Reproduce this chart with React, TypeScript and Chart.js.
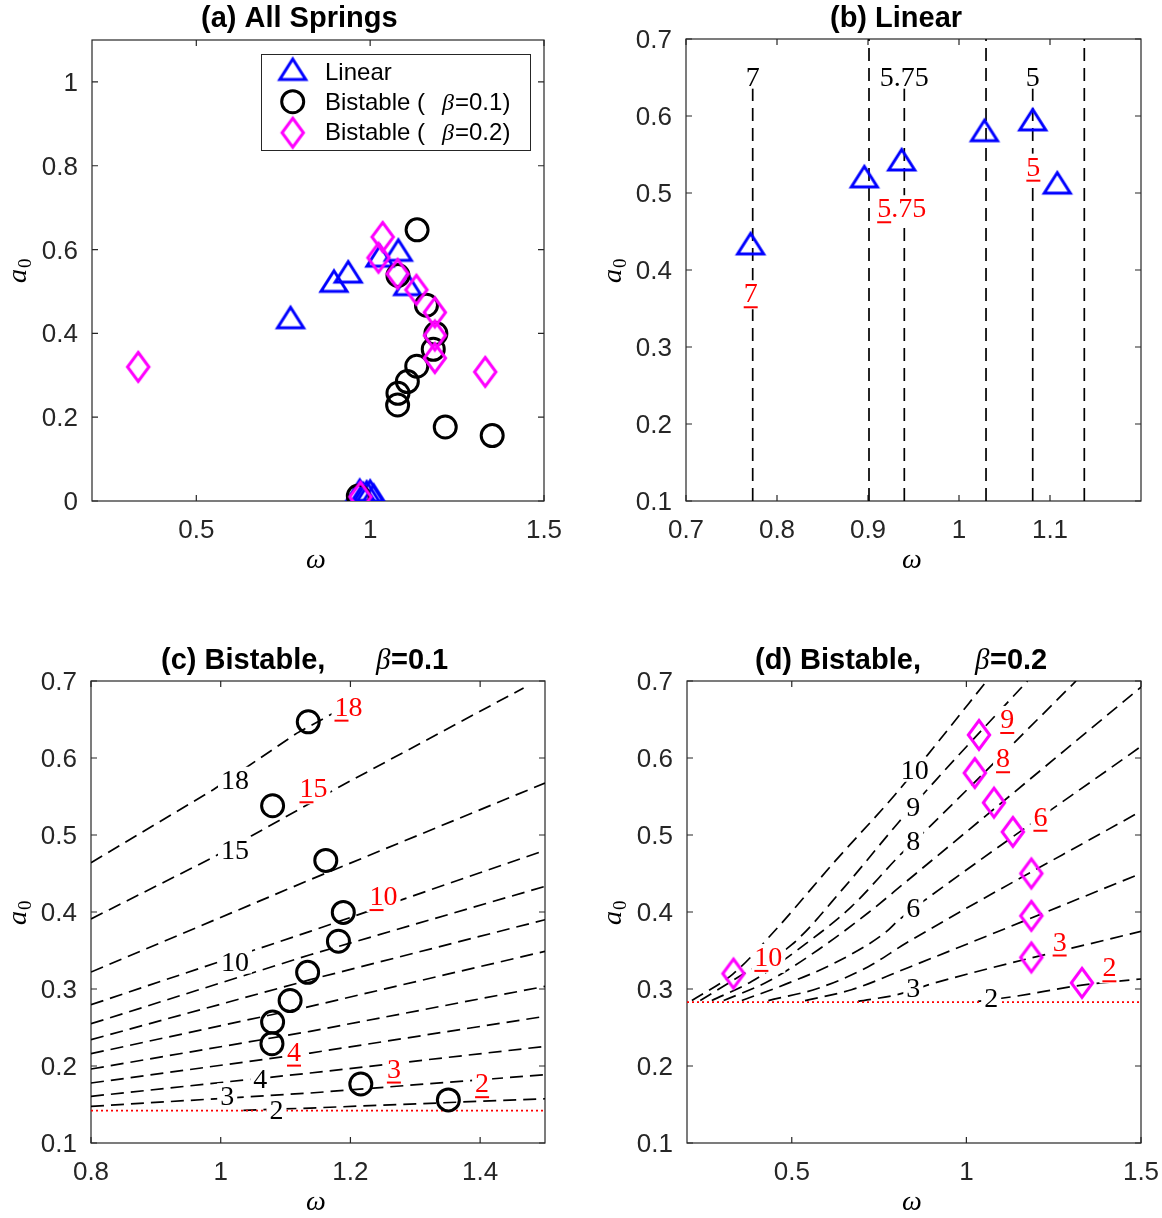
import React, { useEffect, useRef } from 'react';
import { Chart, registerables } from 'chart.js';

Chart.register(...registerables);

// ---------------- data ----------------
// (a)/(b) linear springs
const linearOmega = [0.771, 0.896, 0.937, 1.028, 1.081, 1.108];
const linearA0 = [0.430, 0.517, 0.539, 0.577, 0.591, 0.509];
const linearLowOmega = [0.97, 0.98, 0.99, 1.0, 1.01];
const linearLowA0 = [0.018, 0.010, 0.014, 0.016, 0.006];

// bistable beta = 0.1
const bist1Omega = [1.135, 1.080, 1.162, 1.189, 1.1815, 1.134, 1.107, 1.080, 1.079, 1.216, 1.351];
const bist1A0 = [0.647, 0.538, 0.467, 0.3995, 0.362, 0.3216, 0.285, 0.257, 0.229, 0.1766, 0.156];
const bist1LowOmega = [0.966];
const bist1LowA0 = [0.012];

// bistable beta = 0.2
const bist2Omega = [0.333, 1.036, 1.024, 1.079, 1.133, 1.186, 1.186, 1.186, 1.331];
const bist2A0 = [0.320, 0.630, 0.5805, 0.542, 0.504, 0.450, 0.395, 0.341, 0.308];
const bist2LowOmega = [0.972];
const bist2LowA0 = [0.010];

// (b) vertical guide lines
const guideOmega = [0.7733, 0.9011, 0.9399, 1.0297, 1.081, 1.1377];
const guideTop = [0.65, 0.7, 0.65, 0.7, 0.65, 0.7];
const guideBottom = 0.1;

// (c) curves, beta = 0.1
const c18Omega = [0.8, 0.989, 1.117, 1.21];
const c18A0 = [0.464, 0.559, 0.632, 0.675];
const c15Omega = [0.8, 0.986, 1.184, 1.467];
const c15A0 = [0.391, 0.470, 0.563, 0.691];
const cMidOmega = [0.8, 1.138, 1.5];
const c12A0 = [0.322, 0.442, 0.5675];
const c10A0 = [0.2796, 0.3749, 0.4801];
const c9A0 = [0.2549, 0.3445, 0.4333];
const c8A0 = [0.2342, 0.3121, 0.3900];
const c7A0 = [0.2160, 0.2774, 0.3489];
const c6A0 = [0.1961, 0.2450, 0.3034];
const c5A0 = [0.1779, 0.2168, 0.2645];
const c4A0 = [0.1606, 0.1909, 0.2255];
const c3A0 = [0.1476, 0.1649, 0.1887];
const c2Omega = [1.035, 1.138, 1.5];
const c2A0 = [0.1424, 0.1454, 0.1575];
const cThreshold = 0.142;

// (d) curves, beta = 0.2
const d10Omega = [0.214, 0.333, 0.452, 0.624, 0.795, 0.905, 1.058];
const d10A0 = [0.285, 0.320, 0.376, 0.466, 0.552, 0.613, 0.700];
const d9Omega = [0.238, 0.367, 0.5, 0.652, 0.805, 0.914, 1.175];
const d9A0 = [0.285, 0.321, 0.3575, 0.433, 0.516, 0.572, 0.700];
const d8Omega = [0.271, 0.386, 0.529, 0.671, 0.810, 0.895, 1.314];
const d8A0 = [0.285, 0.310, 0.355, 0.407, 0.474, 0.511, 0.700];
const d7Omega = [0.305, 0.433, 0.576, 0.719, 0.829, 1.5];
const d7A0 = [0.285, 0.310, 0.351, 0.399, 0.440, 0.692];
const d6Omega = [0.357, 0.481, 0.624, 0.767, 0.805, 0.895, 1.5];
const d6A0 = [0.285, 0.306, 0.334, 0.373, 0.389, 0.420, 0.615];
const d5Omega = [0.433, 0.576, 0.719, 0.829, 1.5];
const d5A0 = [0.285, 0.301, 0.329, 0.360, 0.531];
const d4Omega = [0.538, 0.671, 0.829, 1.5];
const d4A0 = [0.285, 0.299, 0.327, 0.450];
const d3Omega = [0.690, 0.805, 0.895, 1.5];
const d3A0 = [0.284, 0.293, 0.306, 0.375];
const d2Omega = [1.033, 1.133, 1.331, 1.5];
const d2A0 = [0.284, 0.290, 0.305, 0.313];
const dThreshold = 0.283;

// tick labels
const xTicksA = [0.5, 1, 1.5];
const xTickLabelsA = ['0.5', '1', '1.5'];
const yTicksA = [0, 0.2, 0.4, 0.6, 0.8, 1];
const yTickLabelsA = ['0', '0.2', '0.4', '0.6', '0.8', '1'];
const xTicksB = [0.7, 0.8, 0.9, 1, 1.1];
const xTickLabelsB = ['0.7', '0.8', '0.9', '1', '1.1'];
const xTicksC = [0.8, 1, 1.2, 1.4];
const xTickLabelsC = ['0.8', '1', '1.2', '1.4'];
const xTicksD = [0.5, 1, 1.5];
const xTickLabelsD = ['0.5', '1', '1.5'];
const yTicksBCD = [0.1, 0.2, 0.3, 0.4, 0.5, 0.6, 0.7];
const yTickLabelsBCD = ['0.1', '0.2', '0.3', '0.4', '0.5', '0.6', '0.7'];

// annotation labels (text, omega, a0)
type Lbl = { text: string; omega: number; a0: number };
const bBlackLabels: Lbl[] = [
  { text: '7', omega: 0.7733, a0: 0.6514 },
  { text: '5.75', omega: 0.9399, a0: 0.6514 },
  { text: '5', omega: 1.081, a0: 0.6514 },
];
const bRedLabels: Lbl[] = [
  { text: '7', omega: 0.7711, a0: 0.3701 },
  { text: '5.75', omega: 0.937, a0: 0.4805 },
  { text: '5', omega: 1.0817, a0: 0.5345 },
];
const cBlackLabels: Lbl[] = [
  { text: '18', omega: 1.022, a0: 0.572 },
  { text: '15', omega: 1.022, a0: 0.481 },
  { text: '10', omega: 1.022, a0: 0.336 },
  { text: '4', omega: 1.061, a0: 0.184 },
  { text: '3', omega: 1.010, a0: 0.161 },
  { text: '2', omega: 1.086, a0: 0.143 },
];
const cRedLabels: Lbl[] = [
  { text: '18', omega: 1.197, a0: 0.667 },
  { text: '15', omega: 1.143, a0: 0.561 },
  { text: '10', omega: 1.251, a0: 0.421 },
  { text: '4', omega: 1.113, a0: 0.219 },
  { text: '3', omega: 1.267, a0: 0.197 },
  { text: '2', omega: 1.403, a0: 0.178 },
];
const dBlackLabels: Lbl[] = [
  { text: '10', omega: 0.852, a0: 0.585 },
  { text: '9', omega: 0.848, a0: 0.537 },
  { text: '8', omega: 0.848, a0: 0.492 },
  { text: '6', omega: 0.848, a0: 0.405 },
  { text: '3', omega: 0.848, a0: 0.301 },
  { text: '2', omega: 1.071, a0: 0.288 },
];
const dRedLabels: Lbl[] = [
  { text: '9', omega: 1.117, a0: 0.651 },
  { text: '8', omega: 1.105, a0: 0.600 },
  { text: '6', omega: 1.212, a0: 0.524 },
  { text: '3', omega: 1.267, a0: 0.362 },
  { text: '2', omega: 1.4095, a0: 0.3285 },
  { text: '10', omega: 0.433, a0: 0.342 },
];

// ---------------- styling helpers ----------------
const SANS = '"Liberation Sans", Arial, Helvetica, sans-serif';
const SERIF = '"Liberation Serif", "Times New Roman", serif';
const AXIS_COLOR = '#262626';
const BLUE = '#0000ff';
const MAGENTA = '#ff00ff';
const RED = '#ff0000';

function makeTriangle(): HTMLCanvasElement {
  const c = document.createElement('canvas');
  c.width = 34; c.height = 36;
  const g = c.getContext('2d')!;
  const cx = 17, cy = 18;
  g.strokeStyle = BLUE; g.lineWidth = 3; g.lineJoin = 'miter';
  g.beginPath();
  g.moveTo(cx, cy - 13.5); g.lineTo(cx + 13, cy + 7); g.lineTo(cx - 13, cy + 7);
  g.closePath(); g.stroke();
  return c;
}
function makeDiamond(): HTMLCanvasElement {
  const c = document.createElement('canvas');
  c.width = 30; c.height = 38;
  const g = c.getContext('2d')!;
  const cx = 15, cy = 19;
  g.strokeStyle = MAGENTA; g.lineWidth = 3; g.lineJoin = 'miter';
  g.beginPath();
  g.moveTo(cx, cy - 14.5); g.lineTo(cx + 10.7, cy); g.lineTo(cx, cy + 14.5); g.lineTo(cx - 10.7, cy);
  g.closePath(); g.stroke();
  return c;
}

const pts = (xs: number[], ys: number[]) => xs.map((x, i) => ({ x, y: ys[i] }));

function dashedLine(xs: number[], ys: number[], smooth = false): any {
  return {
    data: pts(xs, ys), showLine: true, borderColor: '#000', borderWidth: 1.7,
    borderDash: [13, 7], pointRadius: 0, fill: false, order: 10, tension: 0,
    cubicInterpolationMode: smooth ? 'monotone' : 'default',
  };
}
function dottedLine(xs: number[], ys: number[]): any {
  return {
    data: pts(xs, ys), showLine: true, borderColor: RED, borderWidth: 1.6,
    borderDash: [2, 3], pointRadius: 0, fill: false, order: 9,
  };
}
function markerSet(xs: number[], ys: number[], style: any, radius: number, color: string, order: number): any {
  return {
    data: pts(xs, ys), showLine: false, pointStyle: style, pointRadius: radius,
    pointBorderWidth: 3, borderWidth: 3, pointBorderColor: color, borderColor: color,
    pointBackgroundColor: 'rgba(0,0,0,0)', backgroundColor: 'rgba(0,0,0,0)', order, isMarker: true,
  };
}

type Seg = { text: string; x: number; font: string };
interface PanelSpec {
  key: string;
  box: [number, number, number, number];
  area: [number, number, number, number];
  xRange: [number, number];
  yRange: [number, number];
  xTicks: number[]; xTickLabels: string[];
  yTicks: number[]; yTickLabels: string[];
  title: Seg[]; titleBaseline: number;
  omegaPos: [number, number]; a0Pos: [number, number];
  datasets: () => any[];
  blackLabels: Lbl[]; redLabels: Lbl[];
  legend?: boolean;
}

const TITLE_FONT = `bold 29px ${SANS}`;
const BETA_FONT = `italic 29px ${SERIF}`;

let TRI: HTMLCanvasElement | null = null;
let DIA: HTMLCanvasElement | null = null;
function tri() { if (!TRI) TRI = makeTriangle(); return TRI; }
function dia() { if (!DIA) DIA = makeDiamond(); return DIA; }

const panels: PanelSpec[] = [
  {
    key: 'a', box: [0, 0, 581, 609], area: [92, 40, 544, 501],
    xRange: [0.2, 1.5], yRange: [0, 1.1],
    xTicks: xTicksA, xTickLabels: xTickLabelsA, yTicks: yTicksA, yTickLabels: yTickLabelsA,
    title: [{ text: '(a) All Springs', x: 201, font: TITLE_FONT }], titleBaseline: 27,
    omegaPos: [316, 568], a0Pos: [26, 283],
    datasets: () => [
      markerSet(linearOmega, linearA0, tri(), 12, BLUE, 3),
      markerSet(linearLowOmega, linearLowA0, tri(), 12, BLUE, 3),
      markerSet(bist1Omega, bist1A0, 'circle', 11, '#000', 2),
      markerSet(bist1LowOmega, bist1LowA0, 'circle', 11, '#000', 2),
      markerSet(bist2Omega, bist2A0, dia(), 12, MAGENTA, 1),
      markerSet(bist2LowOmega, bist2LowA0, dia(), 12, MAGENTA, 1),
    ],
    blackLabels: [], redLabels: [], legend: true,
  },
  {
    key: 'b', box: [581, 0, 581, 609], area: [686, 39, 1141, 501],
    xRange: [0.7, 1.2], yRange: [0.1, 0.7],
    xTicks: xTicksB, xTickLabels: xTickLabelsB, yTicks: yTicksBCD, yTickLabels: yTickLabelsBCD,
    title: [{ text: '(b) Linear', x: 830, font: TITLE_FONT }], titleBaseline: 27,
    omegaPos: [912, 568], a0Pos: [621, 283],
    datasets: () => [
      ...guideOmega.map((w, i) => dashedLine([w, w], [guideBottom, guideTop[i]])),
      markerSet(linearOmega, linearA0, tri(), 12, BLUE, 1),
    ],
    blackLabels: bBlackLabels, redLabels: bRedLabels,
  },
  {
    key: 'c', box: [0, 609, 581, 609], area: [91, 681, 545, 1143],
    xRange: [0.8, 1.5], yRange: [0.1, 0.7],
    xTicks: xTicksC, xTickLabels: xTickLabelsC, yTicks: yTicksBCD, yTickLabels: yTickLabelsBCD,
    title: [
      { text: '(c) Bistable,', x: 161, font: TITLE_FONT },
      { text: 'β', x: 376, font: BETA_FONT },
      { text: '=0.1', x: 391, font: TITLE_FONT },
    ], titleBaseline: 669,
    omegaPos: [316, 1210], a0Pos: [26, 925],
    datasets: () => [
      dashedLine(c18Omega, c18A0),
      dashedLine(c15Omega, c15A0),
      dashedLine(cMidOmega, c12A0),
      dashedLine(cMidOmega, c10A0),
      dashedLine(cMidOmega, c9A0),
      dashedLine(cMidOmega, c8A0),
      dashedLine(cMidOmega, c7A0),
      dashedLine(cMidOmega, c6A0),
      dashedLine(cMidOmega, c5A0),
      dashedLine(cMidOmega, c4A0),
      dashedLine(cMidOmega, c3A0),
      dashedLine(c2Omega, c2A0),
      dottedLine([0.8, 1.5], [cThreshold, cThreshold]),
      markerSet(bist1Omega, bist1A0, 'circle', 11, '#000', 1),
    ],
    blackLabels: cBlackLabels, redLabels: cRedLabels,
  },
  {
    key: 'd', box: [581, 609, 581, 609], area: [687, 681, 1141, 1143],
    xRange: [0.2, 1.5], yRange: [0.1, 0.7],
    xTicks: xTicksD, xTickLabels: xTickLabelsD, yTicks: yTicksBCD, yTickLabels: yTickLabelsBCD,
    title: [
      { text: '(d) Bistable,', x: 755, font: TITLE_FONT },
      { text: 'β', x: 975, font: BETA_FONT },
      { text: '=0.2', x: 990, font: TITLE_FONT },
    ], titleBaseline: 669,
    omegaPos: [912, 1210], a0Pos: [621, 925],
    datasets: () => [
      dashedLine(d10Omega, d10A0, true),
      dashedLine(d9Omega, d9A0, true),
      dashedLine(d8Omega, d8A0, true),
      dashedLine(d7Omega, d7A0, true),
      dashedLine(d6Omega, d6A0, true),
      dashedLine(d5Omega, d5A0, true),
      dashedLine(d4Omega, d4A0, true),
      dashedLine(d3Omega, d3A0, true),
      dashedLine(d2Omega, d2A0, true),
      dottedLine([0.2, 1.5], [dThreshold, dThreshold]),
      markerSet(bist2Omega, bist2A0, dia(), 12, MAGENTA, 1),
    ],
    blackLabels: dBlackLabels, redLabels: dRedLabels,
  },
];

function drawTextLabel(ctx: CanvasRenderingContext2D, text: string, x: number, y: number, color: string, underline: boolean) {
  const fs = 28;
  ctx.save();
  ctx.font = `${fs}px ${SERIF}`;
  ctx.textAlign = 'left';
  ctx.textBaseline = 'alphabetic';
  const w = ctx.measureText(text).width;
  const base = y + fs * 0.33;
  ctx.fillStyle = '#ffffff';
  ctx.fillRect(x - w / 2 - 3, base - fs * 0.68 - 3, w + 6, fs * 0.68 + (underline ? 10 : 6));
  ctx.fillStyle = color;
  ctx.fillText(text, x - w / 2, base);
  if (underline) {
    const cw = ctx.measureText(text[0]).width;
    ctx.strokeStyle = color;
    ctx.lineWidth = 2;
    ctx.beginPath();
    ctx.moveTo(x - w / 2, base + 5);
    ctx.lineTo(x - w / 2 + cw, base + 5);
    ctx.stroke();
  }
  ctx.restore();
}

function buildChart(canvas: HTMLCanvasElement, spec: PanelSpec) {
  const [bx, by, bw, bh] = spec.box;
  const [L, T, R, B] = spec.area;
  let labelsDone = false;

  const drawLabels = (chart: any) => {
    const xs = chart.scales.x, ys = chart.scales.y, ctx = chart.ctx;
    spec.blackLabels.forEach((l) => drawTextLabel(ctx, l.text, xs.getPixelForValue(l.omega), ys.getPixelForValue(l.a0), '#000', false));
    spec.redLabels.forEach((l) => drawTextLabel(ctx, l.text, xs.getPixelForValue(l.omega), ys.getPixelForValue(l.a0), RED, true));
  };

  const drawFrame = (chart: any) => {
    const ctx: CanvasRenderingContext2D = chart.ctx;
    const ca = chart.chartArea;
    const xs = chart.scales.x, ys = chart.scales.y;
    ctx.save();
    ctx.fillStyle = '#fff';
    ctx.fillRect(ca.left, ca.top, ca.right - ca.left, ca.bottom - ca.top);
    ctx.strokeStyle = AXIS_COLOR;
    ctx.lineWidth = 1.2;
    ctx.strokeRect(ca.left, ca.top, ca.right - ca.left, ca.bottom - ca.top);
    ctx.beginPath();
    spec.xTicks.forEach((v) => {
      const p = xs.getPixelForValue(v);
      ctx.moveTo(p, ca.bottom); ctx.lineTo(p, ca.bottom - 6);
      ctx.moveTo(p, ca.top); ctx.lineTo(p, ca.top + 6);
    });
    spec.yTicks.forEach((v) => {
      const p = ys.getPixelForValue(v);
      ctx.moveTo(ca.left, p); ctx.lineTo(ca.left + 6, p);
      ctx.moveTo(ca.right, p); ctx.lineTo(ca.right - 6, p);
    });
    ctx.stroke();
    ctx.fillStyle = AXIS_COLOR;
    ctx.font = `26px ${SANS}`;
    ctx.textBaseline = 'alphabetic';
    ctx.textAlign = 'center';
    spec.xTicks.forEach((v, i) => ctx.fillText(spec.xTickLabels[i], xs.getPixelForValue(v), ca.bottom + 37));
    ctx.textAlign = 'right';
    spec.yTicks.forEach((v, i) => ctx.fillText(spec.yTickLabels[i], ca.left - 14, ys.getPixelForValue(v) + 9));
    ctx.restore();
  };

  const drawTexts = (chart: any) => {
    const ctx: CanvasRenderingContext2D = chart.ctx;
    ctx.save();
    ctx.translate(-bx, -by);
    ctx.fillStyle = '#000';
    ctx.textBaseline = 'alphabetic';
    ctx.textAlign = 'left';
    spec.title.forEach((s) => { ctx.font = s.font; ctx.fillText(s.text, s.x, spec.titleBaseline); });
    // omega label
    ctx.font = `italic 28px ${SERIF}`;
    ctx.textAlign = 'center';
    ctx.fillText('ω', spec.omegaPos[0], spec.omegaPos[1]);
    // a0 label
    ctx.save();
    ctx.translate(spec.a0Pos[0], spec.a0Pos[1]);
    ctx.rotate(-Math.PI / 2);
    ctx.textAlign = 'left';
    ctx.font = `italic 28px ${SERIF}`;
    ctx.fillText('a', 0, 0);
    const aw = ctx.measureText('a').width;
    ctx.font = `19px ${SERIF}`;
    ctx.fillText('0', aw + 1, 5);
    ctx.restore();

    if (spec.legend) {
      ctx.fillStyle = '#fff';
      ctx.fillRect(261, 54, 269, 96);
      ctx.strokeStyle = AXIS_COLOR;
      ctx.lineWidth = 1;
      ctx.strokeRect(261.5, 54.5, 269, 96);
      const t = tri();
      ctx.drawImage(t, 292.7 - t.width / 2, 72.5 - t.height / 2);
      ctx.strokeStyle = '#000';
      ctx.lineWidth = 3;
      ctx.beginPath();
      ctx.arc(292.7, 101.7, 11, 0, Math.PI * 2);
      ctx.stroke();
      const d = dia();
      ctx.drawImage(d, 292.7 - d.width / 2, 132.7 - d.height / 2);
      ctx.fillStyle = '#000';
      ctx.textAlign = 'left';
      const lf = `24px ${SANS}`;
      const bf = `italic 24px ${SERIF}`;
      ctx.font = lf; ctx.fillText('Linear', 325, 80);
      ctx.fillText('Bistable (', 325, 110);
      ctx.fillText('Bistable (', 325, 140);
      ctx.font = bf; ctx.fillText('β', 442, 110); ctx.fillText('β', 442, 140);
      ctx.font = lf; ctx.fillText('=0.1)', 455, 110); ctx.fillText('=0.2)', 455, 140);
    }
    ctx.restore();
  };

  const plugin = {
    id: 'panel_' + spec.key,
    beforeDraw() { labelsDone = false; },
    beforeDatasetsDraw(chart: any) { drawFrame(chart); },
    beforeDatasetDraw(chart: any, args: any) {
      if (!labelsDone && chart.data.datasets[args.index].isMarker) { drawLabels(chart); labelsDone = true; }
    },
    afterDatasetsDraw(chart: any) {
      if (!labelsDone) { drawLabels(chart); labelsDone = true; }
      drawTexts(chart);
    },
  };

  return new Chart(canvas, {
    type: 'scatter',
    data: { datasets: spec.datasets() },
    options: {
      animation: false,
      responsive: false,
      maintainAspectRatio: false,
      events: [],
      layout: { padding: { left: L - bx, top: T - by, right: bx + bw - R, bottom: by + bh - B } },
      scales: {
        x: { type: 'linear', min: spec.xRange[0], max: spec.xRange[1], display: false },
        y: { type: 'linear', min: spec.yRange[0], max: spec.yRange[1], display: false },
      },
      plugins: { legend: { display: false }, tooltip: { enabled: false }, title: { display: false } },
    } as any,
    plugins: [plugin as any],
  });
}

function Panel({ spec }: { spec: PanelSpec }) {
  const ref = useRef<HTMLCanvasElement>(null);
  useEffect(() => {
    const chart = buildChart(ref.current!, spec);
    return () => chart.destroy();
  }, [spec]);
  const [x, y, w, h] = spec.box;
  return (
    <canvas
      ref={ref}
      width={w}
      height={h}
      style={{ position: 'absolute', left: x, top: y, width: w, height: h }}
    />
  );
}

export default function App() {
  return (
    <div style={{ position: 'absolute', left: 0, top: 0, width: 1162, height: 1218, background: '#fff', overflow: 'hidden' }}>
      {panels.map((p) => <Panel key={p.key} spec={p} />)}
    </div>
  );
}
